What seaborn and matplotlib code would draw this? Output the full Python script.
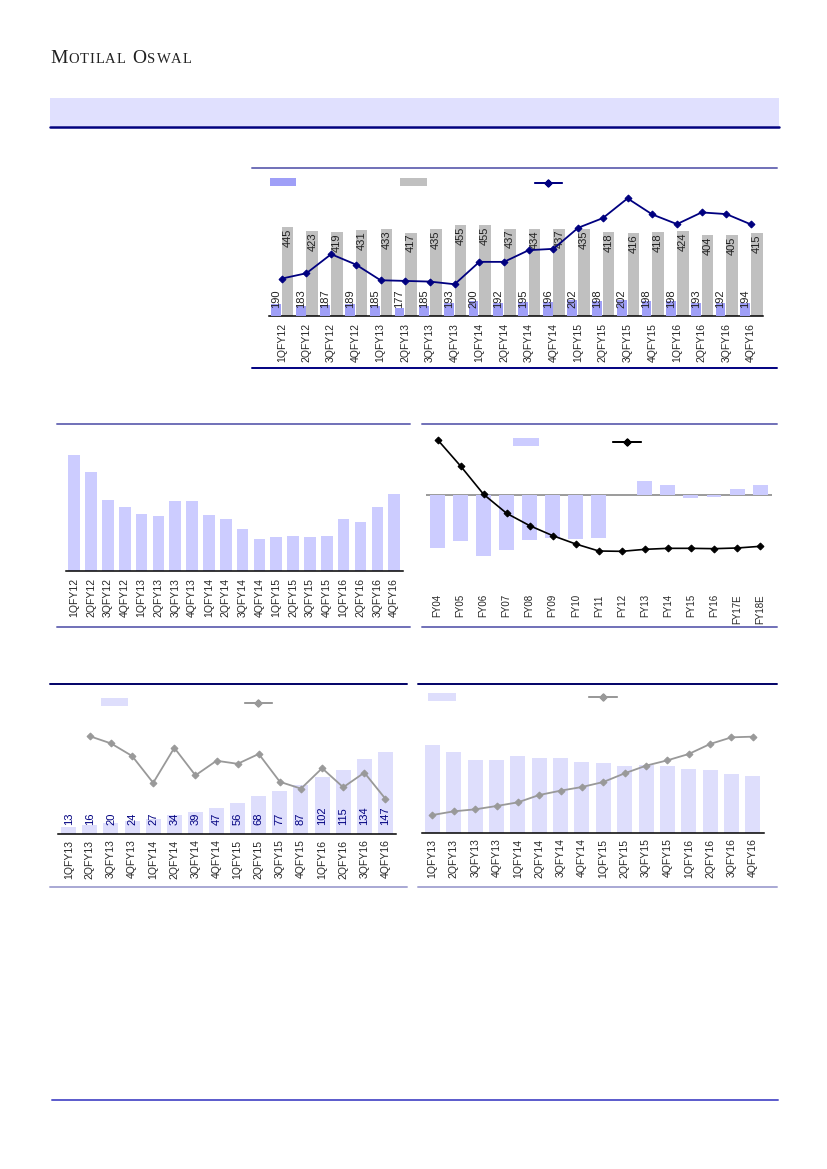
import numpy as np
import pandas as pd
import matplotlib
matplotlib.use("Agg")
import matplotlib.pyplot as plt
import matplotlib.patches as mpatches
import matplotlib.lines as mlines
import seaborn as sns

W, H = 827, 1169

# ---- data ----
q12 = ["1QFY12", "2QFY12", "3QFY12", "4QFY12", "1QFY13", "2QFY13", "3QFY13", "4QFY13",
       "1QFY14", "2QFY14", "3QFY14", "4QFY14", "1QFY15", "2QFY15", "3QFY15", "4QFY15",
       "1QFY16", "2QFY16", "3QFY16", "4QFY16"]
q13 = q12[4:]
fy_labels = ["FY04", "FY05", "FY06", "FY07", "FY08", "FY09", "FY10", "FY11", "FY12",
             "FY13", "FY14", "FY15", "FY16", "FY17E", "FY18E"]

top_purple = [190, 183, 187, 189, 185, 177, 185, 193, 200, 192, 195, 196, 202, 198, 202,
              198, 198, 193, 192, 194]
top_gray = [445, 423, 419, 431, 433, 417, 435, 455, 455, 437, 434, 437, 435, 418, 416,
            418, 424, 404, 405, 415]
top_line = [11.2, 12.8, 18.5, 15.4, 10.7, 10.5, 10.3, 9.5, 16.2, 16.2, 19.7, 20.1, 26.4,
            29.3, 35.2, 30.4, 27.5, 31.0, 30.5, 27.4]

midleft_bars = [34.7, 29.7, 21.2, 19.1, 16.9, 16.3, 21.0, 20.9, 16.8, 15.4, 12.4, 9.6,
                10.1, 10.4, 10.2, 10.3, 15.5, 14.7, 19.1, 23.0]

midright_bars = [-15.7, -13.7, -18.2, -16.4, -13.4, -12.9, -13.2, -12.8, 0.0, 4.3, 3.0,
                 -0.7, -0.4, 1.9, 3.0]
midright_line = [16.7, 8.8, 0.3, -5.4, -9.1, -12.1, -14.6, -16.7, -16.8, -16.2, -15.9,
                 -15.9, -16.0, -15.8, -15.3]

botleft_bars = [13, 16, 20, 24, 27, 34, 39, 47, 56, 68, 77, 87, 102, 115, 134, 147]
botleft_growth = [25.8, 23.7, 20.0, 12.1, 22.4, 14.3, 18.6, 17.7, 20.6, 12.4, 10.4, 16.4,
                  10.8, 15.1, 7.4]

botright_bars = [26.4, 24.3, 21.9, 21.9, 23.1, 22.5, 22.5, 21.3, 21.0, 20.1, 20.4, 20.1,
                 19.2, 18.9, 17.7, 17.1]
botright_line = [5.4, 6.5, 7.1, 8.1, 9.2, 11.4, 12.7, 13.8, 15.3, 17.9, 20.2, 21.8, 23.7,
                 26.7, 28.7, 28.9]

PURPLE = "#9f9ff7"
GRAY = "#c0c0c0"
LAV = "#ccccff"
LAV2 = "#dedefc"
NAVY = "#000080"
FRAME = "#7070b8"

sns.set_theme(style="white")
plt.rcParams["font.family"] = ["Liberation Sans", "DejaVu Sans"]

fig = plt.figure(figsize=(8.27, 11.69), dpi=100)


def box(x0, y0, x1, y1):
    return [x0 / W, 1 - y1 / H, (x1 - x0) / W, (y1 - y0) / H]


def hline(y, x0, x1, color, lw=1.4):
    fig.add_artist(mlines.Line2D([x0 / W, x1 / W], [1 - y / H, 1 - y / H],
                                 color=color, lw=lw, transform=fig.transFigure))


def clean(ax, bottom=True):
    for s in ax.spines.values():
        s.set_visible(False)
    if bottom:
        ax.spines["bottom"].set_visible(True)
        ax.spines["bottom"].set_color("black")
        ax.spines["bottom"].set_linewidth(1.1)
    ax.set_yticks([])
    ax.set_xlabel("")
    ax.set_ylabel("")
    ax.patch.set_alpha(0)


def key(ax, handle, x0, x1, yc):
    leg = ax.legend(handles=[handle], labels=[""], loc="center left",
                    bbox_to_anchor=(x0 / W, 1 - yc / H), bbox_transform=fig.transFigure,
                    frameon=False, fontsize=10, handlelength=(x1 - x0) / 13.9,
                    handleheight=0.5, borderpad=0, borderaxespad=0, handletextpad=0)
    ax.add_artist(leg)


def line_key(color, ms=4):
    return mlines.Line2D([], [], color=color, lw=1.3, marker="D", markersize=ms)


# ---- header ----
fig.add_artist(mpatches.Rectangle((50 / W, 1 - 126 / H), 729 / W, 28 / H,
                                  transform=fig.transFigure, color="#e0e0fe", lw=0))
hline(127, 50, 779, NAVY, lw=1.8)
renderer = fig.canvas.get_renderer()
xpos = 50
for word in ["MOTILAL", "OSWAL"]:
    for k, ch in enumerate(word):
        size = 14 if k == 0 else 10.5
        t = fig.text(xpos / W, 1 - 63 / H, ch, fontsize=size, family="Liberation Serif",
                     color="#222222", va="baseline", ha="left")
        xpos += t.get_window_extent(renderer).width + 0.9
    xpos += 6
hline(1100, 52, 778, "#5a5acc", lw=1.4)

# ---- top chart ----
idx = np.arange(len(q12))
ax = fig.add_axes(box(269.4, 175, 763.4, 316))
sns.barplot(x=idx + 0.235, y=top_gray, native_scale=True, width=0.47, color=GRAY,
            saturation=1, linewidth=0, errorbar=None, ax=ax)
ax.set_ylim(0, 705)
for i, v in enumerate(top_gray):
    ax.annotate(str(v), (i + 0.235, v), xytext=(0, -1), textcoords="offset points",
                rotation=90, ha="center", va="top", fontsize=8, color="#222222")
axp = ax.twinx()
sns.barplot(x=idx - 0.235, y=top_purple, native_scale=True, width=0.4, color=PURPLE,
            saturation=1, linewidth=0, errorbar=None, ax=axp)
axp.set_ylim(154, 577)
axl = ax.twinx()
sns.lineplot(x=idx, y=top_line, color=NAVY, marker="D", markersize=3.5,
             markeredgecolor=NAVY, linewidth=1.3, ax=axl)
axl.set_ylim(0, 42.2)
for i, v in enumerate(top_purple):
    axl.annotate(str(v), (i - 0.235, 0), xycoords=axl.get_xaxis_transform(),
                 xytext=(0, 6), textcoords="offset points", rotation=90,
                 ha="center", va="bottom", fontsize=8, color="#222222")
for a in (ax, axp, axl):
    clean(a, bottom=(a is ax))
    a.set_xlim(-0.5, 19.5)
ax.set_xticks(idx)
ax.set_xticklabels(q12, rotation=90, fontsize=7.5)
ax.tick_params(axis="x", length=0, pad=5)
key(axl, mpatches.Patch(facecolor=PURPLE, edgecolor="none"), 270, 296, 183.3)
key(axl, mpatches.Patch(facecolor=GRAY, edgecolor="none"), 400, 427, 183.3)
key(axl, line_key(NAVY, 3.5), 535, 562, 183.3)
hline(167.5, 252, 777, FRAME)
hline(368, 252, 777, NAVY)

# ---- middle left ----
ax = fig.add_axes(box(65.8, 440, 402.6, 570.7))
sns.barplot(x=q12, y=midleft_bars, width=0.69, color=LAV, saturation=1, linewidth=0,
            errorbar=None, ax=ax)
ax.set_ylim(0, 39.2)
ax.set_xlim(-0.5, 19.5)
clean(ax)
ax.tick_params(axis="x", length=0, pad=5, labelsize=7.5, labelrotation=90)
hline(424.3, 57, 410, FRAME)
hline(627, 57, 410, FRAME)

# ---- middle right ----
fidx = np.arange(len(fy_labels))
ax = fig.add_axes(box(426, 430, 771.6, 590))
sns.barplot(x=fy_labels, y=midright_bars, width=0.65, color=LAV, saturation=1,
            linewidth=0, errorbar=None, ax=ax)
ax.axhline(0, color="#808080", lw=1.1, zorder=0.5)
sns.lineplot(x=fidx, y=midright_line, color="black", marker="D", markersize=3.5,
             markeredgecolor="black", linewidth=1.2, ax=ax)
ax.set_ylim(-28.4, 19.6)
ax.set_xlim(-0.5, 14.5)
clean(ax, bottom=False)
ax.tick_params(axis="x", length=0, pad=3, labelsize=7, labelrotation=90)
key(ax, mpatches.Patch(facecolor=LAV, edgecolor="none"), 513, 539, 442.5)
key(ax, line_key("black", 3.5), 613, 641, 442.3)
hline(424.3, 422, 777, FRAME)
hline(627, 422, 777, FRAME)

# ---- bottom left ----
bidx = np.arange(len(q13))
ax = fig.add_axes(box(58.2, 690, 396, 834))
sns.barplot(x=q13, y=botleft_bars, width=0.71, color=LAV2, saturation=1, linewidth=0,
            errorbar=None, ax=ax)
ax.set_ylim(0, 258)
axl = ax.twinx()
sns.lineplot(x=bidx[1:], y=botleft_growth, color="#999999", marker="D", markersize=3.5,
             markeredgecolor="#999999", linewidth=1.3, ax=axl)
axl.set_ylim(-2.94, 39.4)
for i, v in enumerate(botleft_bars):
    axl.annotate(str(v), (i, 0), xycoords=axl.get_xaxis_transform(), xytext=(0, 6.5),
                 textcoords="offset points", rotation=90, ha="center", va="bottom",
                 fontsize=8, color=NAVY)
for a in (ax, axl):
    clean(a, bottom=(a is ax))
    a.set_xlim(-0.5, 15.5)
ax.tick_params(axis="x", length=0, pad=4, labelsize=7.5, labelrotation=90)
key(axl, mpatches.Patch(facecolor=LAV2, edgecolor="none"), 101, 128, 703)
key(axl, line_key("#999999", 3.5), 245, 272, 703)
hline(684.3, 50, 407, "#000066")
hline(887, 50, 407, "#a8a8d4")

# ---- bottom right ----
ax = fig.add_axes(box(421.8, 690, 763.5, 833))
sns.barplot(x=q13, y=botright_bars, width=0.7, color=LAV2, saturation=1, linewidth=0,
            errorbar=None, ax=ax)
sns.lineplot(x=bidx, y=botright_line, color="#999999", marker="D", markersize=3.5,
             markeredgecolor="#999999", linewidth=1.3, ax=ax)
ax.set_ylim(0, 42.9)
ax.set_xlim(-0.5, 15.5)
clean(ax)
ax.tick_params(axis="x", length=0, pad=4, labelsize=7.5, labelrotation=90)
key(ax, mpatches.Patch(facecolor=LAV2, edgecolor="none"), 428, 456, 697.8)
key(ax, line_key("#999999", 3.5), 589, 617, 697.7)
hline(684.3, 418, 777, "#000066")
hline(887, 418, 777, "#a8a8d4")

fig.savefig("out.png", dpi=100)
